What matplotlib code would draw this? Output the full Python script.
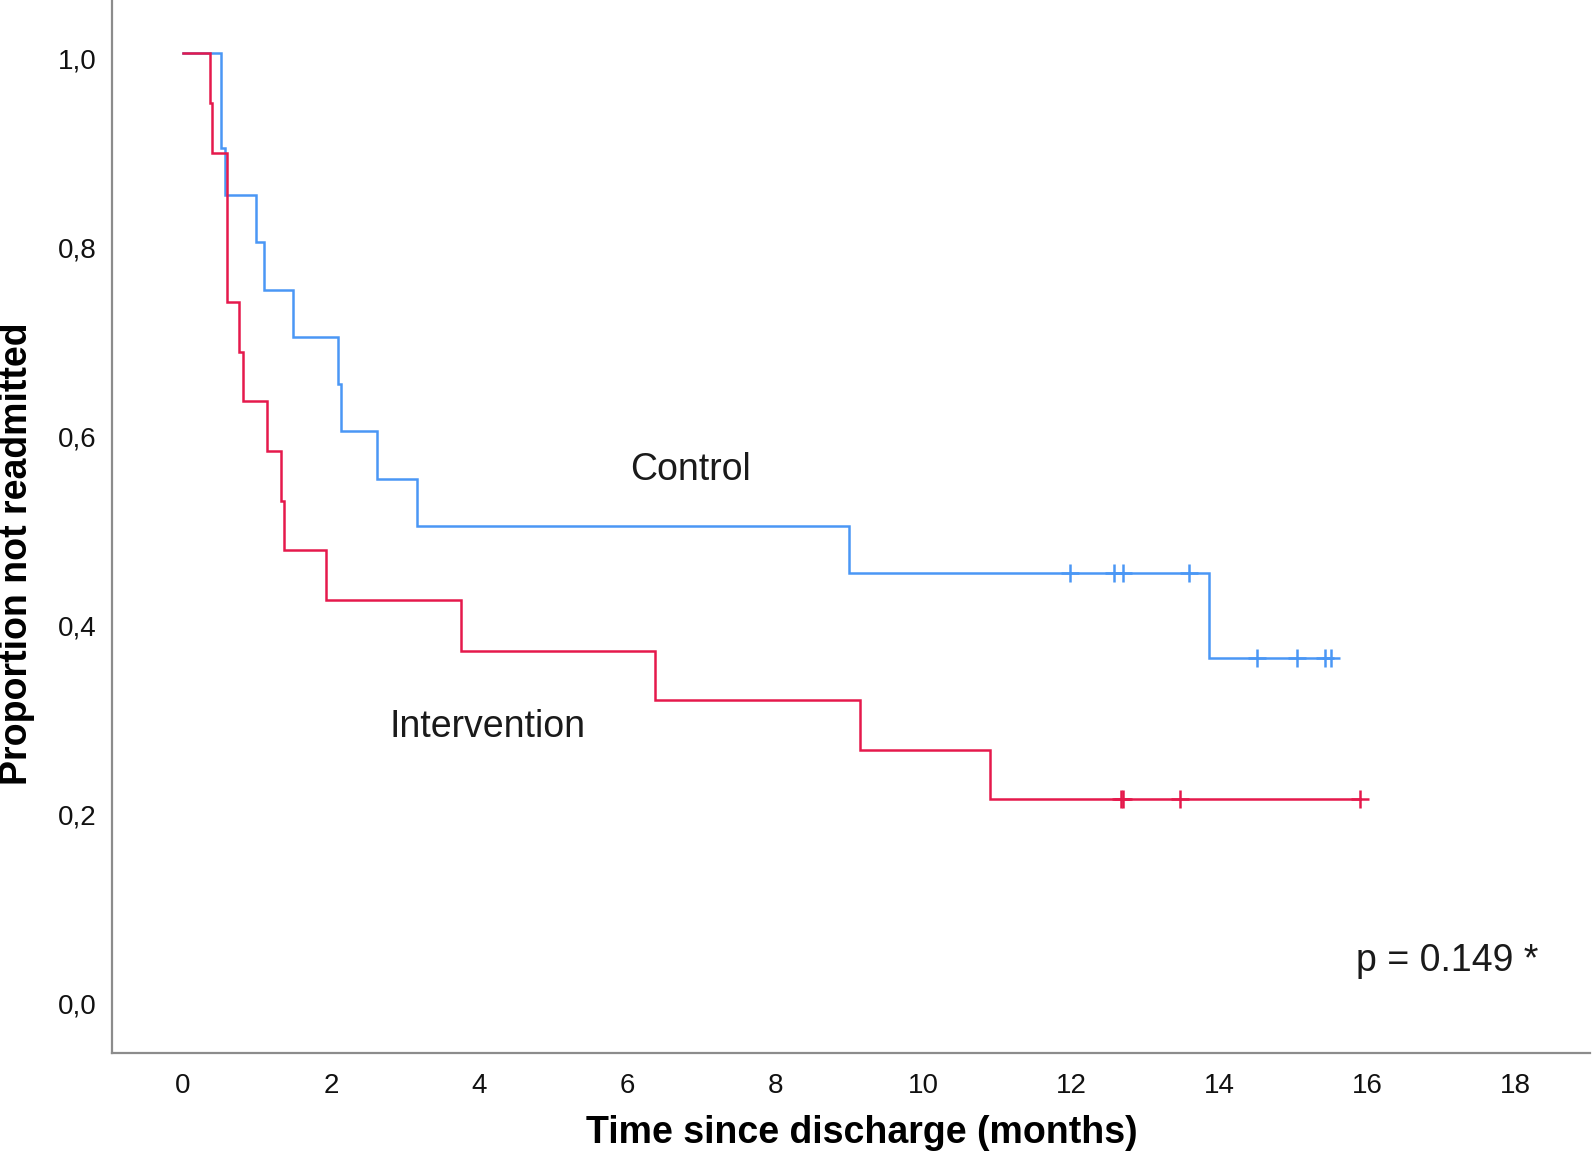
import numpy as np
import matplotlib
matplotlib.use('Agg')
import matplotlib.pyplot as plt
from matplotlib import transforms
from matplotlib.ticker import FuncFormatter

plt.rcParams['font.family'] = ['Liberation Sans', 'DejaVu Sans']

# Kaplan-Meier steps (months, proportion not readmitted)
control_times = [0, 0.52, 0.57, 0.99, 1.09, 1.48, 2.10, 2.13, 2.62, 3.16, 9.00, 13.86]
control_surv = [1.0, 0.90, 0.85, 0.80, 0.75, 0.70, 0.65, 0.60, 0.55, 0.50, 0.45, 0.36]
control_censor = [11.98, 12.57, 12.70, 13.59, 14.51, 15.04, 15.43, 15.50]

interv_times = [0, 0.36, 0.39, 0.59, 0.76, 0.81, 1.14, 1.33, 1.37, 1.93, 3.76, 6.38, 9.14, 10.90]
interv_surv = [1.0, 0.947, 0.895, 0.737, 0.684, 0.632, 0.579, 0.526, 0.474, 0.421, 0.368, 0.316,
               0.263, 0.211]
interv_censor = [12.67, 12.70, 13.46, 15.89]

x_ticks = [0, 2, 4, 6, 8, 10, 12, 14, 16, 18]
y_ticks = [0.0, 0.2, 0.4, 0.6, 0.8, 1.0]

blue = '#4a97f5'
red = '#e5194c'


def km_curve(ax, times, surv, censor, color):
    # step line up to the last censored case, then the + marks
    end = max(censor)
    xs = list(times) + [end]
    ys = list(surv) + [surv[-1]]
    ax.step(xs, ys, where='post', color=color, linewidth=1.8, solid_joinstyle='miter')
    idx = np.searchsorted(times, censor, side='right') - 1
    cy = [surv[i] for i in idx]
    ax.plot(censor, cy, linestyle='none', marker='+', markersize=13,
            markeredgewidth=1.8, color=color)


fig = plt.figure(figsize=(15.93, 11.56), dpi=100)
ax = fig.add_axes([0.0703, 0.0894, 0.9277, 0.9106])

km_curve(ax, control_times, control_surv, control_censor, blue)
km_curve(ax, interv_times, interv_surv, interv_censor, red)

ax.set_xlim(-0.958, 19.0)
ax.set_ylim(-0.0575, 1.0564)

ax.set_xticks(x_ticks)
ax.set_yticks(y_ticks)
ax.yaxis.set_major_formatter(FuncFormatter(lambda v, p: f'{v:.1f}'.replace('.', ',')))
ax.tick_params(axis='both', length=0, labelsize=20, colors='#111111')
ax.tick_params(axis='y', pad=11)
ax.tick_params(axis='x', pad=15)

# SPSS puts the value labels a touch below the level they belong to
off = transforms.ScaledTranslation(0, -5.5 / 100, fig.dpi_scale_trans)
for lab in ax.get_yticklabels():
    lab.set_transform(lab.get_transform() + off)

for side in ['top', 'right']:
    ax.spines[side].set_visible(False)
for side in ['left', 'bottom']:
    ax.spines[side].set_color('#8c8c8c')
    ax.spines[side].set_linewidth(1.6)

ax.text(6.86, 0.559, 'Control', fontsize=27, ha='center', va='center', color='#1a1a1a')
ax.text(4.12, 0.287, 'Intervention', fontsize=27, ha='center', va='center', color='#1a1a1a')
ax.text(17.08, 0.040, 'p = 0.149 *', fontsize=27, ha='center', va='center', color='#1a1a1a')

fig.text(862 / 1593, 1 - 1133 / 1156, 'Time since discharge (months)', fontsize=27,
         fontweight='bold', ha='center', va='center')
fig.text(17 / 1593, 1 - 554 / 1156, 'Proportion not readmitted', fontsize=27,
         fontweight='bold', ha='center', va='center', rotation=90)

fig.savefig('out.png', dpi=100)
